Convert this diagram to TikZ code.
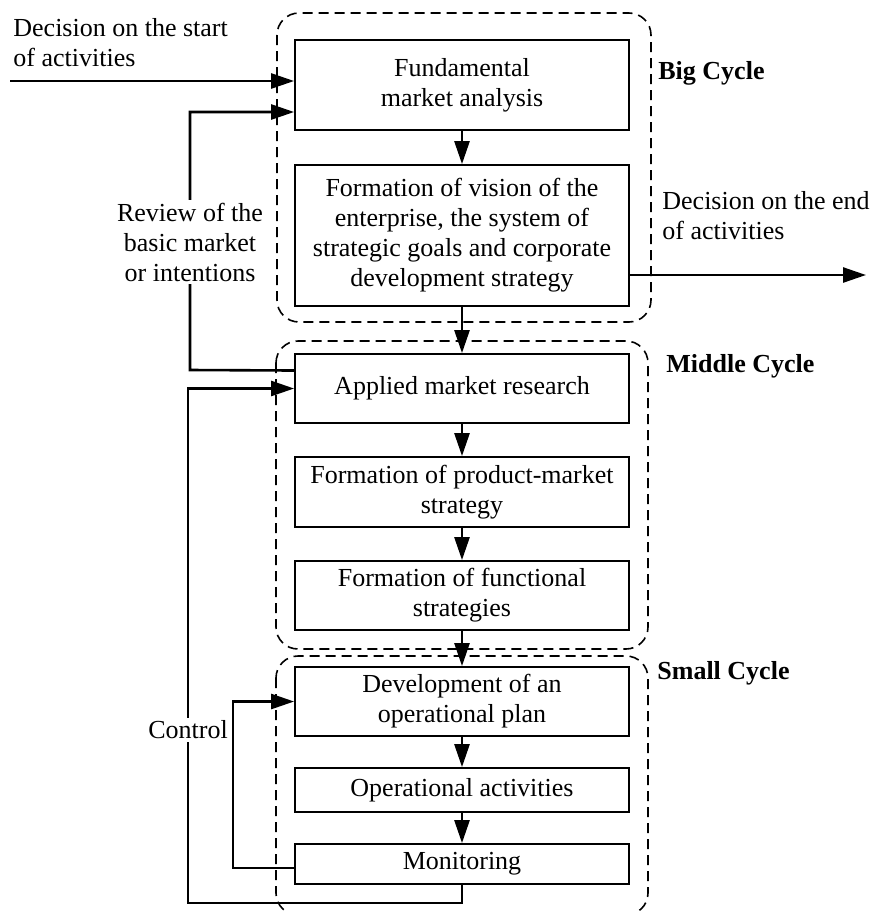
\documentclass[tikz,border=0pt]{standalone}
\usepackage{fontspec}
\setmainfont{Liberation Serif}
\usetikzlibrary{arrows.meta}

\tikzset{
  stage/.style={draw, line width=0.9pt, minimum width=167pt, align=center,
    inner sep=2pt, font=\fontsize{13pt}{15pt}\selectfont},
  flow/.style={line width=1.3pt, -{Triangle[length=11.5pt,width=7.5pt]}},
  groupframe/.style={dashed, dash pattern=on 5pt off 3pt, line width=0.8pt, rounded corners=11pt},
  note/.style={inner sep=1.5pt, align=center, font=\fontsize{13pt}{15pt}\selectfont},
  cyclename/.style={anchor=west, inner sep=0pt, font=\fontsize{13pt}{15pt}\selectfont\bfseries}
}

\begin{document}
\begin{tikzpicture}[x=0.5pt, y=-0.5pt]
        \useasboundingbox (0,0) rectangle (872,912);

        % Cycles
        \draw[groupframe] (277,13) rectangle (651,322);
        \draw[groupframe] (276,341) rectangle (648,649);
        \draw[groupframe] (276,656) rectangle (648,915);
        \node[cyclename] (bigname) at (658,73) {Big Cycle};
        \node[cyclename] (midname) at (666,366) {Middle Cycle};
        \node[cyclename] (smallname) at (657,673) {Small Cycle};

        % Stages
        \node[stage, minimum height=45pt] (fund) at (462,85) {Fundamental\\market analysis};
        \node[stage, minimum height=70.5pt] (vision) at (462,235.5) {Formation of vision of the\\enterprise, the system of\\strategic goals and corporate\\development strategy};
        \node[stage, minimum height=34.5pt] (applied) at (462,388.5) {Applied market research};
        \node[stage, minimum height=35pt] (prodmarket) at (462,492) {Formation of product-market\\strategy};
        \node[stage, minimum height=34.5pt] (functional) at (462,595.5) {Formation of functional\\strategies};
        \node[stage, minimum height=34.5pt] (devplan) at (462,701.5) {Development of an\\operational plan};
        \node[stage, minimum height=22pt] (operations) at (462,790) {Operational activities};
        \node[stage, minimum height=20pt] (monitor) at (462,864) {Monitoring};

        % Main chain
        \draw[flow] (fund) -- (vision);
        \draw[flow] (vision) -- (applied);
        \draw[flow] (applied) -- (prodmarket);
        \draw[flow] (prodmarket) -- (functional);
        \draw[flow] (functional) -- (devplan);
        \draw[flow] (devplan) -- (operations);
        \draw[flow] (operations) -- (monitor);

        % Start and end
        \coordinate (start) at (10,81);
        \coordinate (finish) at (866,275);
        \draw[flow] (start) -- (start -| fund.west);
        \draw[flow] (vision.east |- finish) -- (finish);
        \node[note, anchor=west, align=left, inner sep=0pt] (startnote) at (13,43) {Decision on the start\\of activities};
        \node[note, anchor=west, align=left, inner sep=0pt] (endnote) at (662,216) {Decision on the end\\of activities};

        % Review loop
        \coordinate (revturn) at (190,370);
        \draw[flow] ([yshift=9pt]applied.west) -- (revturn) |- ([yshift=-13.5pt]fund.west);
        \node[note, fill=white] (review) at (190,242) {Review of the\\basic market\\or intentions};

        % Control loops
        \coordinate (ctrlturn) at (188,903);
        \draw[flow] (monitor.south) |- (ctrlturn) |- (applied.west);
        \node[note, fill=white] (control) at (188,730) {Control};
        \coordinate (innerturn) at (233,868);
        \draw[flow] ([yshift=-2pt]monitor.west) -- (innerturn) |- (devplan.west);
      \end{tikzpicture}
\end{document}
